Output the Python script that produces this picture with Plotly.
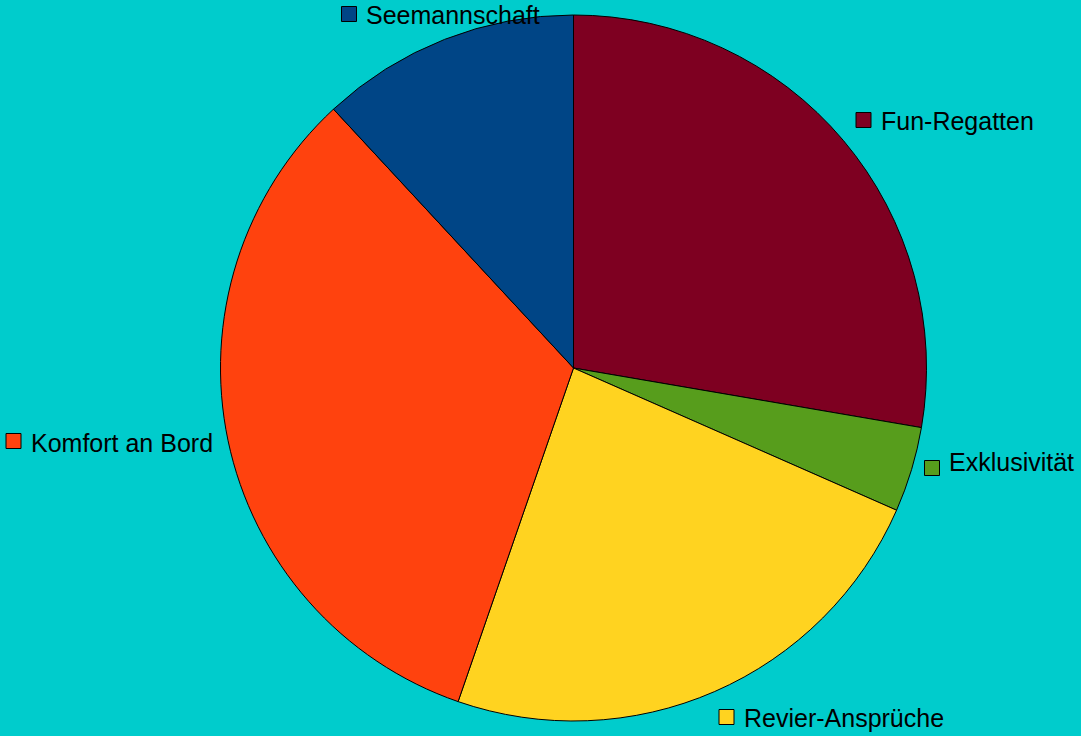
import plotly.graph_objects as go

# ---- data ----
categories = ["Fun-Regatten", "Exklusivität", "Revier-Ansprüche", "Komfort an Bord", "Seemannschaft"]
values = [27.7, 3.9, 23.7, 32.8, 11.9]

# ---- styles / layout ----
colors = ["#7E0021", "#579D1C", "#FFD320", "#FF420E", "#004586"]
BG = "#00CCCC"
W, H = 1081, 736
CX, CY, R = 573.5, 368, 353
# label square centre positions (pixels) and text vertical centres
label_sq_x = [863.5, 932, 726.5, 13.5, 349]
label_sq_y = [120, 468, 717, 441, 14]
label_txt_y = [121, 462, 718, 443, 15]
FONT = "Liberation Sans, Arial, sans-serif"
FSIZE = 25

fig = go.Figure()
fig.add_trace(go.Pie(
    labels=categories, values=values, sort=False, direction="clockwise", rotation=0,
    marker=dict(colors=colors, line=dict(color="black", width=1)),
    textinfo="none", hoverinfo="label+percent", showlegend=False,
    domain=dict(x=[(CX - R) / W, (CX + R) / W], y=[1 - (CY + R) / H, 1 - (CY - R) / H]),
))
fig.add_trace(go.Scatter(
    x=label_sq_x, y=label_sq_y, mode="markers", showlegend=False, hoverinfo="skip",
    marker=dict(symbol="square", size=15, color=colors, line=dict(color="black", width=1)),
    xaxis="x", yaxis="y",
))
for name, sx, ty in zip(categories, label_sq_x, label_txt_y):
    fig.add_annotation(x=sx + 15, y=ty, xref="x", yref="y", text=name, showarrow=False,
                       xanchor="left", yanchor="middle",
                       font=dict(family=FONT, size=FSIZE, color="black"))

fig.update_layout(
    width=W, height=H, margin=dict(l=0, r=0, t=0, b=0),
    paper_bgcolor=BG, plot_bgcolor="rgba(0,0,0,0)",
    xaxis=dict(range=[0, W], visible=False, fixedrange=True),
    yaxis=dict(range=[H, 0], visible=False, fixedrange=True),
)
fig.write_html(
    "out.html",
    config={"displayModeBar": False},
    post_script="document.body.style.margin='0';document.body.style.padding='0';"
                "document.body.style.overflow='hidden';",
)
